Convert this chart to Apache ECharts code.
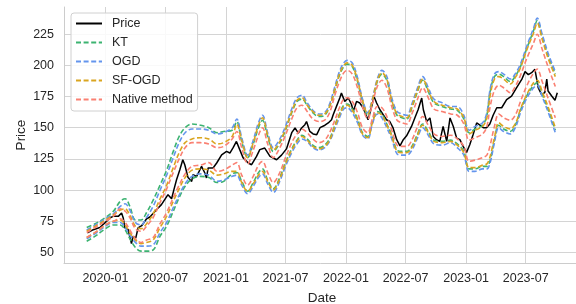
<!DOCTYPE html>
<html>
  <head>
    <meta charset="UTF-8" />
    <title>Price prediction intervals</title>
    <style>
      body { margin: 0; background: #fff; }
      #chart { width: 576px; height: 304px; }
    </style>
    <script src="https://cdn.jsdelivr.net/npm/echarts@6/dist/echarts.min.js"></script>
  </head>
  <body>
    <div id="chart"></div>
    <script>
      var priceDates = [
        "2019-11-07", "2019-11-25", "2019-12-15", "2020-01-04", "2020-01-14", "2020-01-24", "2020-01-29",
        "2020-02-09", "2020-02-19", "2020-02-24", "2020-02-29", "2020-03-10", "2020-03-20", "2020-03-25",
        "2020-04-02", "2020-04-09", "2020-04-20", "2020-05-05", "2020-05-15", "2020-06-04", "2020-06-19",
        "2020-06-29", "2020-07-09", "2020-07-20", "2020-07-27", "2020-08-04", "2020-08-14", "2020-08-23",
        "2020-08-29", "2020-09-08", "2020-09-19", "2020-09-23", "2020-10-04", "2020-10-19", "2020-10-29",
        "2020-11-03", "2020-11-08", "2020-11-23", "2020-12-04", "2020-12-19", "2021-01-03", "2021-01-13",
        "2021-01-23", "2021-02-02", "2021-02-12", "2021-02-22", "2021-03-10", "2021-03-20", "2021-04-04",
        "2021-04-14", "2021-04-29", "2021-05-15", "2021-05-25", "2021-06-04", "2021-06-19", "2021-07-04",
        "2021-07-20", "2021-07-30", "2021-08-09", "2021-08-19", "2021-08-29", "2021-09-03", "2021-09-13",
        "2021-09-23", "2021-10-04", "2021-10-14", "2021-10-29", "2021-11-08", "2021-11-18", "2021-11-23",
        "2021-12-03", "2021-12-13", "2021-12-18", "2021-12-28", "2022-01-08", "2022-01-18", "2022-01-23",
        "2022-02-02", "2022-02-12", "2022-02-22", "2022-03-09", "2022-03-20", "2022-03-27", "2022-04-04",
        "2022-04-14", "2022-04-24", "2022-05-04", "2022-05-14", "2022-05-24", "2022-06-04", "2022-06-14",
        "2022-06-24", "2022-07-04", "2022-07-19", "2022-07-29", "2022-08-08", "2022-08-19", "2022-08-24",
        "2022-09-03", "2022-09-13", "2022-09-23", "2022-10-03", "2022-10-13", "2022-10-23", "2022-11-03",
        "2022-11-13", "2022-11-23", "2022-12-03", "2022-12-13", "2022-12-23", "2023-01-02", "2023-01-12",
        "2023-01-22", "2023-02-02", "2023-02-12", "2023-02-22", "2023-03-04", "2023-03-14", "2023-03-24",
        "2023-04-04", "2023-04-19", "2023-05-04", "2023-05-19", "2023-06-03", "2023-06-19", "2023-06-29",
        "2023-07-09", "2023-07-19", "2023-07-29", "2023-08-08", "2023-08-18", "2023-08-28", "2023-09-03",
        "2023-09-07", "2023-09-18", "2023-09-28", "2023-10-05"
      ];
      var priceValues = [
        65.6, 68.2, 70.0, 74.9, 77.6, 78.9, 80.2,
        78.9, 81.6, 77.6, 69.6, 68.2, 57.0, 62.8,
        61.5, 69.6, 71.4, 77.0, 78.4, 84.2, 88.3,
        92.3, 96.3, 93.0, 100.3, 108.3, 116.3, 124.3,
        120.3, 110.0, 106.9, 112.3, 110.9, 119.0, 113.7,
        109.7, 117.7, 117.7, 121.7, 128.3, 131.0, 129.7,
        134.0, 139.0, 132.4, 126.0, 121.7, 120.3, 127.0,
        132.4, 133.7, 127.0, 125.7, 124.3, 128.0, 133.0,
        146.0, 149.8, 145.7, 149.8, 152.4, 155.0, 147.0,
        145.0, 144.4, 150.0, 152.0, 153.8, 156.4, 160.4,
        167.1, 173.8, 177.8, 171.1, 173.8, 168.4, 163.1,
        171.1, 169.8, 165.8, 156.4, 167.1, 175.1, 169.8,
        164.4, 160.4, 156.4, 155.0, 149.8, 140.4, 135.5,
        140.4, 143.5, 151.0, 157.8, 164.4, 173.8, 164.4,
        155.0, 157.8, 143.0, 140.4, 139.0, 151.0, 139.0,
        157.8, 151.0, 141.7, 140.4, 135.0, 130.0, 136.4,
        144.4, 153.8, 152.0, 150.0, 150.0, 153.0, 160.0,
        166.0, 166.0, 172.5, 175.4, 182.0, 188.7, 195.0,
        192.6, 194.1, 196.8, 182.1, 176.7, 178.1, 189.0,
        179.4, 175.4, 172.0, 178.0
      ];

      var bandDates = [
        "2019-11-05", "2019-12-01", "2020-01-01", "2020-01-25", "2020-02-15", "2020-03-01", "2020-03-15",
        "2020-04-01", "2020-04-18", "2020-05-05", "2020-05-25", "2020-06-15", "2020-07-05", "2020-07-25",
        "2020-08-12", "2020-08-30", "2020-09-20", "2020-10-15", "2020-11-10", "2020-12-05", "2020-12-25",
        "2021-01-20", "2021-02-03", "2021-02-18", "2021-03-08", "2021-03-25", "2021-04-10", "2021-04-22",
        "2021-05-08", "2021-05-25", "2021-06-12", "2021-07-01", "2021-07-20", "2021-08-05", "2021-08-20",
        "2021-09-05", "2021-09-22", "2021-10-10", "2021-10-28", "2021-11-12", "2021-11-28", "2021-12-12",
        "2021-12-25", "2022-01-05", "2022-01-20", "2022-02-05", "2022-02-20", "2022-03-08", "2022-03-22",
        "2022-04-06", "2022-04-20", "2022-05-05", "2022-05-20", "2022-06-05", "2022-06-20", "2022-07-05",
        "2022-07-20", "2022-08-05", "2022-08-22", "2022-09-08", "2022-09-25", "2022-10-20", "2022-11-15",
        "2022-12-05", "2022-12-25", "2023-01-10", "2023-01-28", "2023-02-20", "2023-03-05", "2023-03-15",
        "2023-03-28", "2023-04-10", "2023-04-25", "2023-05-15", "2023-06-01", "2023-06-15", "2023-07-05",
        "2023-07-25", "2023-08-05", "2023-08-20", "2023-09-08", "2023-09-29"
      ];

      var ktUpper = [
        70, 73, 78, 83, 91, 93, 87, 76, 76, 82, 92, 104, 116, 131, 143, 150, 153, 152, 150, 146, 147,
        148, 155, 139, 126, 137, 150, 156, 143, 131, 137, 148, 162, 171, 173, 168, 162, 159, 160, 167,
        180, 192, 199, 201, 199, 187, 171, 160, 171, 187, 193, 188, 171, 160, 158, 157, 166, 178, 188,
        179, 170, 167, 165, 164, 157, 146, 149, 152, 160, 179, 191, 193, 191, 187, 192, 199, 214, 228,
        236, 223, 207, 193
      ];
      var ktLower = [
        59, 63, 69, 72, 72, 68, 61, 54, 51, 51, 52, 63, 71, 83, 94, 103, 109, 111, 110, 106, 107,
        113, 114, 107, 99, 106, 114, 117, 108, 101, 109, 122, 133, 140, 144, 141, 136, 134, 136, 141,
        152, 161, 168, 169, 165, 157, 146, 143, 155, 163, 161, 153, 144, 132, 131, 131, 135, 144, 153,
        147, 140, 139, 140, 137, 131, 117, 117, 119, 119, 124, 140, 152, 149, 147, 153, 164, 176, 184,
        186, 177, 164, 148
      ];
      var ogdUpper = [
        68, 72, 77, 81, 87, 89, 84, 74, 72, 78, 87, 100, 112, 126, 138, 146, 149, 149, 148, 145, 146,
        150, 157, 142, 128, 140, 154, 160, 146, 134, 140, 151, 165, 174, 176, 170, 164, 161, 162, 169,
        183, 195, 202, 204, 202, 190, 173, 162, 173, 189, 196, 191, 174, 163, 161, 160, 169, 181, 191,
        182, 173, 170, 167, 167, 160, 148, 151, 154, 162, 181, 193, 195, 193, 189, 194, 201, 216, 230,
        238, 225, 209, 195
      ];
      var ogdLower = [
        61, 65, 71, 74, 74, 70, 64, 58, 55, 55, 56, 66, 74, 86, 96, 105, 111, 113, 112, 107, 108,
        111, 112, 104, 97, 103, 110, 113, 105, 98, 106, 119, 130, 137, 141, 139, 134, 132, 134, 139,
        149, 158, 165, 166, 162, 154, 144, 141, 153, 161, 158, 150, 141, 129, 128, 128, 132, 141, 150,
        144, 137, 136, 138, 134, 128, 115, 115, 117, 117, 122, 138, 150, 147, 145, 151, 162, 174, 182,
        184, 175, 162, 146
      ];
      var sfUpper = [
        67, 71, 76, 80, 84, 85, 80, 71, 69, 73, 81, 93, 104, 118, 130, 138, 141, 142, 141, 137, 138,
        143, 153, 140, 126, 138, 152, 158, 144, 132, 138, 149, 163, 172, 174, 168, 163, 160, 161, 167,
        181, 193, 200, 202, 200, 188, 172, 161, 172, 188, 194, 189, 172, 161, 159, 158, 167, 179, 189,
        180, 171, 168, 166, 165, 158, 145, 148, 151, 158, 176, 189, 191, 189, 185, 191, 198, 213, 226,
        234, 221, 205, 191
      ];
      var sfLower = [
        62, 66, 72, 75, 76, 72, 66, 60, 57, 58, 60, 70, 79, 91, 101, 110, 116, 117, 116, 112, 113,
        115, 115, 106, 99, 105, 112, 115, 107, 100, 108, 121, 132, 139, 143, 140, 135, 133, 135, 140,
        151, 160, 167, 168, 164, 156, 145, 142, 154, 162, 160, 152, 143, 131, 130, 130, 134, 143, 152,
        146, 139, 138, 139, 136, 130, 118, 118, 120, 121, 127, 142, 154, 151, 149, 154, 165, 177, 186,
        188, 179, 166, 150
      ];
      var nmUpper = [
        66, 70, 75, 79, 85, 83, 78, 69, 67, 71, 78, 90, 101, 114, 125, 134, 138, 138, 137, 134, 135,
        141, 147, 134, 121, 132, 144, 150, 137, 126, 133, 144, 157, 166, 168, 163, 157, 155, 156, 162,
        176, 187, 194, 196, 193, 182, 167, 157, 169, 183, 188, 182, 167, 156, 154, 153, 161, 172, 182,
        174, 165, 163, 161, 160, 153, 140, 142, 145, 151, 167, 180, 184, 182, 178, 184, 192, 206, 218,
        225, 213, 198, 183
      ];
      var nmLower = [
        62, 66, 72, 75, 77, 74, 68, 61, 58, 60, 62, 73, 82, 94, 104, 113, 119, 120, 122, 115, 116,
        120, 122, 112, 104, 111, 120, 123, 114, 106, 113, 126, 138, 145, 149, 146, 141, 138, 140, 146,
        156, 166, 173, 174, 171, 162, 150, 146, 157, 167, 166, 159, 148, 136, 135, 135, 140, 150, 159,
        152, 145, 143, 144, 141, 135, 123, 124, 126, 128, 136, 151, 161, 158, 156, 161, 171, 184, 194,
        197, 187, 173, 158
      ];

      var yTicks = [50, 75, 100, 125, 150, 175, 200, 225];
      var xTicks = [
        "2020-01-01", "2020-07-01", "2021-01-01", "2021-07-01",
        "2022-01-01", "2022-07-01", "2023-01-01", "2023-07-01"
      ];

      function zip(dates, values) {
        var out = [];
        for (var i = 0; i < dates.length; i++) {
          out.push([dates[i], values[i]]);
        }
        return out;
      }

      function band(name, color, values) {
        return {
          name: name,
          type: "line",
          data: zip(bandDates, values),
          symbol: "none",
          smooth: 0.35,
          lineStyle: { color: color, width: 1.6, type: [5, 2.6] },
          itemStyle: { color: color, opacity: 0 },
          z: 2
        };
      }

      var myChart = echarts.init(document.getElementById("chart"));
      var axisText = { color: "#262626", fontSize: 12.5, fontFamily: "Liberation Sans" };

      var option = {
        animation: false,
        backgroundColor: "#ffffff",
        textStyle: { fontFamily: "Liberation Sans" },
        grid: { left: 64, top: 7, width: 516, height: 256, outerBoundsMode: "none", containLabel: false },
        legend: {
          orient: "vertical",
          left: 71,
          top: 13,
          padding: [4, 5, 5, 4],
          itemWidth: 26,
          itemHeight: 12,
          itemGap: 6,
          backgroundColor: "rgba(255,255,255,0.85)",
          borderColor: "#d0d0d0",
          borderWidth: 1,
          borderRadius: 3,
          itemStyle: { opacity: 0 },
          textStyle: { color: "#262626", fontSize: 12.5, padding: [0, 0, 0, 5] },
          data: ["Price", "KT", "OGD", "SF-OGD", "Native method"]
        },
        xAxis: {
          type: "time",
          min: "2019-08-28",
          max: "2023-12-13",
          name: "Date",
          nameLocation: "middle",
          nameGap: 28,
          nameMoveOverlap: false,
          nameTextStyle: { color: "#262626", fontSize: 13.5 },
          axisLine: { show: true, lineStyle: { color: "#cccccc", width: 1 } },
          axisTick: { show: false, customValues: xTicks },
          axisLabel: Object.assign({ customValues: xTicks, formatter: "{yyyy}-{MM}", margin: 9 }, axisText),
          splitLine: { show: true, lineStyle: { color: "#d4d4d4", width: 1 } }
        },
        yAxis: {
          type: "value",
          min: 41.5,
          max: 246.8,
          name: "Price",
          nameLocation: "middle",
          nameGap: 36,
          nameMoveOverlap: false,
          nameTextStyle: { color: "#262626", fontSize: 13.5 },
          axisLine: { show: true, lineStyle: { color: "#cccccc", width: 1 } },
          axisTick: { show: false, customValues: yTicks },
          axisLabel: Object.assign({ customValues: yTicks, margin: 10 }, axisText),
          splitLine: { show: true, lineStyle: { color: "#d4d4d4", width: 1 } }
        },
        series: [
          {
            name: "Price",
            type: "line",
            data: zip(priceDates, priceValues),
            symbol: "none",
            lineStyle: { color: "#000000", width: 1.5 },
            itemStyle: { color: "#000000", opacity: 0 },
            z: 1
          },
          band("KT", "#3cb371", ktUpper),
          band("KT", "#3cb371", ktLower),
          band("OGD", "#6495ed", ogdUpper),
          band("OGD", "#6495ed", ogdLower),
          band("SF-OGD", "#daa520", sfUpper),
          band("SF-OGD", "#daa520", sfLower),
          band("Native method", "#fa8072", nmUpper),
          band("Native method", "#fa8072", nmLower)
        ]
      };

      myChart.setOption(option);
    </script>
  </body>
</html>
